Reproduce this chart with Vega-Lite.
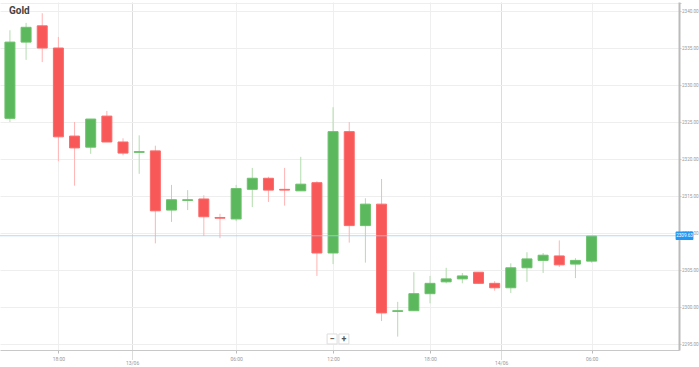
{
  "$schema": "https://vega.github.io/schema/vega-lite/v6.json",
  "width": 679,
  "height": 348,
  "autosize": {"type": "none"},
  "padding": {"left": 0, "top": 2, "right": 20, "bottom": 17},
  "background": "white",
  "config": {"view": {"stroke": null}, "font": "Roboto"},
  "title": {"text": "Gold", "anchor": "start", "frame": "group", "orient": "top", "offset": 0, "dx": 9, "dy": 16, "fontSize": 10, "fontWeight": "bold", "color": "#444", "font": "Roboto"},
  "datasets": {
    "candles": [
      {"i": 0, "o": 2325.5, "h": 2337.4, "l": 2325.0, "c": 2335.8},
      {"i": 1, "o": 2335.8, "h": 2338.4, "l": 2333.4, "c": 2337.8},
      {"i": 2, "o": 2338.0, "h": 2339.7, "l": 2333.1, "c": 2335.0},
      {"i": 3, "o": 2335.0, "h": 2336.5, "l": 2319.7, "c": 2323.0},
      {"i": 4, "o": 2323.1, "h": 2325.0, "l": 2316.4, "c": 2321.5},
      {"i": 5, "o": 2321.6, "h": 2325.4, "l": 2320.7, "c": 2325.4},
      {"i": 6, "o": 2325.8, "h": 2326.5, "l": 2322.3, "c": 2322.3},
      {"i": 7, "o": 2322.3, "h": 2322.8, "l": 2320.5, "c": 2320.8},
      {"i": 8, "o": 2320.9, "h": 2323.2, "l": 2318.0, "c": 2321.0},
      {"i": 9, "o": 2321.1, "h": 2321.8, "l": 2308.6, "c": 2313.0},
      {"i": 10, "o": 2313.1, "h": 2316.5, "l": 2311.5, "c": 2314.5},
      {"i": 11, "o": 2314.4, "h": 2315.8, "l": 2313.1, "c": 2314.5},
      {"i": 12, "o": 2314.6, "h": 2315.1, "l": 2309.6, "c": 2312.2},
      {"i": 13, "o": 2312.1, "h": 2312.6, "l": 2309.3, "c": 2312.0},
      {"i": 14, "o": 2311.9, "h": 2316.5, "l": 2311.6, "c": 2316.0},
      {"i": 15, "o": 2315.9, "h": 2318.8, "l": 2313.5, "c": 2317.4},
      {"i": 16, "o": 2317.4, "h": 2317.6, "l": 2314.2, "c": 2315.8},
      {"i": 17, "o": 2315.9, "h": 2318.8, "l": 2313.7, "c": 2315.8},
      {"i": 18, "o": 2315.7, "h": 2320.3, "l": 2315.7, "c": 2316.6},
      {"i": 19, "o": 2316.8, "h": 2317.0, "l": 2304.2, "c": 2307.3},
      {"i": 20, "o": 2307.3, "h": 2327.0, "l": 2305.8, "c": 2323.7},
      {"i": 21, "o": 2323.7, "h": 2325.0, "l": 2308.7, "c": 2311.0},
      {"i": 22, "o": 2311.0, "h": 2314.7, "l": 2306.0, "c": 2313.9},
      {"i": 23, "o": 2313.9, "h": 2317.3, "l": 2298.1, "c": 2299.2},
      {"i": 24, "o": 2299.4, "h": 2300.7, "l": 2296.0, "c": 2299.5},
      {"i": 25, "o": 2299.5, "h": 2304.7, "l": 2299.5, "c": 2301.8},
      {"i": 26, "o": 2301.8, "h": 2304.2, "l": 2300.5, "c": 2303.2},
      {"i": 27, "o": 2303.4, "h": 2305.3, "l": 2303.2, "c": 2303.8},
      {"i": 28, "o": 2303.8, "h": 2304.6, "l": 2303.2, "c": 2304.2},
      {"i": 29, "o": 2304.7, "h": 2304.7, "l": 2303.2, "c": 2303.2},
      {"i": 30, "o": 2303.2, "h": 2303.5, "l": 2302.2, "c": 2302.6},
      {"i": 31, "o": 2302.6, "h": 2305.9, "l": 2301.9, "c": 2305.3},
      {"i": 32, "o": 2305.3, "h": 2307.4, "l": 2303.4, "c": 2306.5},
      {"i": 33, "o": 2306.3, "h": 2307.3, "l": 2304.6, "c": 2307.0},
      {"i": 34, "o": 2306.9, "h": 2309.0, "l": 2305.4, "c": 2305.7},
      {"i": 35, "o": 2305.8, "h": 2306.6, "l": 2303.9, "c": 2306.3},
      {"i": 36, "o": 2306.2, "h": 2309.6, "l": 2306.0, "c": 2309.6}
    ],
    "price": [{"p": 2309.63, "x1": 41.2, "x2": 42.3, "xm": 41.75, "top": 2310.2, "bot": 2309.06, "label": "2309.63"}],
    "buttons": [{"bx": 19.94, "by": 2295.68, "sym": "−"}, {"bx": 20.67, "by": 2295.68, "sym": "+"}]
  },
  "encoding": {
    "y": {"type": "quantitative",
      "scale": {"domain": [2294.19, 2341.22], "nice": false, "zero": false},
      "axis": {
        "orient": "right", "title": null,
        "values": [2295, 2300, 2305, 2310, 2315, 2320, 2325, 2330, 2335, 2340, 2341.1],
        "labelExpr": "datum.value > 2341 ? '' : format(datum.value, '.2f')",
        "labelFontSize": 4.6, "labelColor": "#999", "labelFont": "Roboto",
        "labelOverlap": false, "labelBound": false, "labelFlush": false, "labelSeparation": 0,
        "domainColor": "#bbb", "domainWidth": 2,
        "tickSize": 2, "tickColor": "#ccc",
        "gridColor": "#eeeeee",
        "labelPadding": 0.5
      }
    }
  },
  "layer": [
    {
      "data": {"name": "candles"},
      "mark": {"type": "rule", "strokeWidth": 1},
      "encoding": {
        "x": {"field": "i", "type": "quantitative",
          "scale": {"domain": [-0.305, 41.1], "nice": false, "zero": false},
          "axis": {
            "orient": "bottom", "title": null,
            "values": [3, 7.56, 14, 20, 26, 30.4, 36],
            "labelExpr": "datum.value == 7.56 ? '13/06' : datum.value == 30.4 ? '14/06' : (datum.value == 3 || datum.value == 26) ? '18:00' : (datum.value == 14 || datum.value == 36) ? '06:00' : '12:00'",
            "labelFontSize": 5, "labelColor": "#999", "labelFont": "Roboto",
            "labelOverlap": false,
            "domainColor": "#c8c8c8", "domainWidth": 1,
            "gridColor": {"condition": {"test": "datum.value == 7.56 || datum.value == 30.4", "value": "#dcdcdc"}, "value": "#efefef"},
            "tickColor": "#bbb",
            "tickSize": {"condition": {"test": "datum.value == 7.56 || datum.value == 30.4", "value": 9}, "value": 3},
            "tickDash": {"condition": {"test": "datum.value == 7.56 || datum.value == 30.4", "value": [1, 1]}, "value": []},
            "labelPadding": {"condition": {"test": "datum.value == 7.56 || datum.value == 30.4", "value": 1}, "value": 3}
          }
        },
        "y": {"field": "l", "type": "quantitative"},
        "y2": {"field": "h"},
        "color": {"condition": {"test": "datum.c >= datum.o", "value": "#b3dcae"}, "value": "#ffb4b4"}
      }
    },
    {
      "data": {"name": "candles"},
      "mark": {"type": "bar", "size": 10, "strokeWidth": 1},
      "encoding": {
        "x": {"field": "i", "type": "quantitative"},
        "y": {"field": "o", "type": "quantitative"},
        "y2": {"field": "c"},
        "color": {"condition": {"test": "datum.c >= datum.o", "value": "#5cb85c"}, "value": "#f95858"},
        "stroke": {"condition": {"test": "datum.c >= datum.o", "value": "#6cc16c"}, "value": "#fb6a6a"}
      }
    },
    {
      "data": {"name": "price"},
      "mark": {"type": "rule", "strokeWidth": 1, "color": "#9fd0f2", "opacity": 0.8},
      "encoding": {"y": {"field": "p", "type": "quantitative"}}
    },
    {
      "data": {"name": "price"},
      "mark": {"type": "rect", "color": "#2196f3", "cornerRadius": 1},
      "encoding": {
        "x": {"field": "x1", "type": "quantitative"},
        "x2": {"field": "x2"},
        "y": {"field": "top", "type": "quantitative"},
        "y2": {"field": "bot"}
      }
    },
    {
      "data": {"name": "price"},
      "mark": {"type": "text", "color": "white", "fontSize": 4.6, "align": "center", "baseline": "middle", "font": "Roboto"},
      "encoding": {
        "x": {"field": "xm", "type": "quantitative"},
        "y": {"field": "p", "type": "quantitative"},
        "text": {"field": "label"}
      }
    },
    {
      "data": {"name": "buttons"},
      "mark": {"type": "point", "shape": "square", "size": 100, "filled": true, "color": "white", "stroke": "#dddddd", "strokeWidth": 1, "opacity": 1},
      "encoding": {
        "x": {"field": "bx", "type": "quantitative"},
        "y": {"field": "by", "type": "quantitative"}
      }
    },
    {
      "data": {"name": "buttons"},
      "mark": {"type": "text", "fontSize": 9, "fontWeight": "bold", "color": "#555", "align": "center", "baseline": "middle", "font": "Roboto"},
      "encoding": {
        "x": {"field": "bx", "type": "quantitative"},
        "y": {"field": "by", "type": "quantitative"},
        "text": {"field": "sym"}
      }
    }
  ]
}
